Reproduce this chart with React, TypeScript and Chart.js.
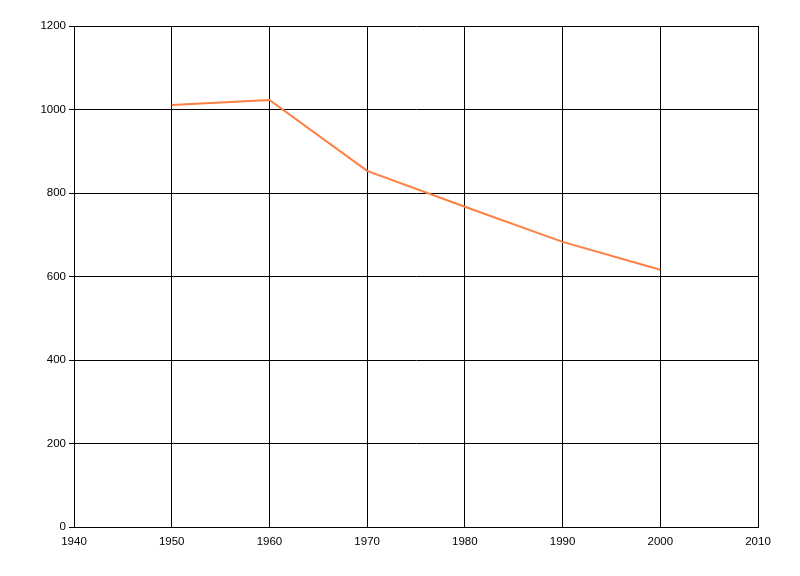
import React, { useEffect, useRef } from "react";
import { Chart, registerables } from "chart.js";

Chart.register(...registerables);

const years = [1950, 1960, 1970, 1980, 1990, 2000];
const values = [1011, 1023, 853, 767, 683, 616];
const xMin = 1940;
const xMax = 2010;
const yMin = 0;
const yMax = 1200;

export default function App() {
  const ref = useRef<HTMLCanvasElement>(null);
  useEffect(() => {
    document.body.style.margin = "0";
    const ctx = ref.current!;
    const chart = new Chart(ctx, {
      type: "line",
      data: {
        datasets: [
          {
            data: years.map((y, i) => ({ x: y, y: values[i] })),
            borderColor: "rgb(255,127,64)",
            borderWidth: 2,
            pointRadius: 0,
            tension: 0,
            fill: false,
          },
        ],
      },
      options: {
        animation: false,
        responsive: false,
        layout: { padding: { left: 0, right: 42, top: 26, bottom: 0 } },
        plugins: { legend: { display: false }, tooltip: { enabled: false } },
        scales: {
          x: {
            type: "linear",
            min: xMin,
            max: xMax,
            ticks: {
              stepSize: 10,
              color: "#000",
              padding: 8,
              maxRotation: 0,
              font: { family: "'Liberation Sans', sans-serif", size: 11.5 },
              callback: (v: any) => String(v),
            },
            grid: { color: "#000", lineWidth: 1, drawTicks: false },
            border: { color: "#000", width: 1 },
            afterFit: (s: any) => {
              s.height = 49;
            },
          },
          y: {
            type: "linear",
            min: yMin,
            max: yMax,
            ticks: {
              stepSize: 200,
              color: "#000",
              padding: 3,
              font: { family: "'Liberation Sans', sans-serif", size: 11.5 },
              callback: (v: any) => String(v),
            },
            grid: { color: "#000", lineWidth: 1, tickLength: 5 },
            border: { color: "#000", width: 1 },
            afterFit: (s: any) => {
              s.width = 74;
            },
          },
        },
      },
    });
    return () => chart.destroy();
  }, []);
  return (
    <div style={{ width: 800, height: 576, background: "#fff" }}>
      <canvas ref={ref} width={800} height={576} />
    </div>
  );
}
